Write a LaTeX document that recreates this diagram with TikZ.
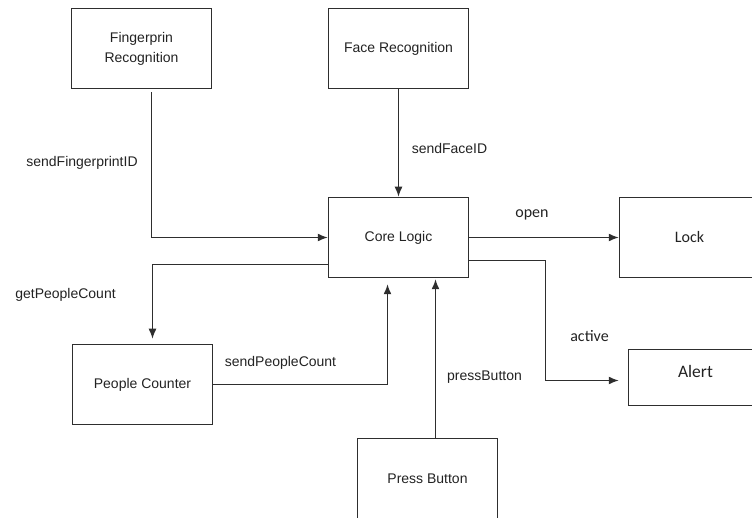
\documentclass[tikz,border=0pt]{standalone}
\usepackage{fontspec}
\setmainfont{Liberation Sans}
\newfontfamily\carlito{Carlito}
\usepackage{tikz}
\usetikzlibrary{arrows.meta, positioning}
\definecolor{linegray}{HTML}{2E2E2E}
\definecolor{textgray}{HTML}{222222}

\tikzset{
  block/.style={draw=linegray, line width=1.5pt, minimum width=140pt, minimum height=80pt,
    align=center, text=textgray, font=\fontsize{14}{20}\selectfont},
  flow/.style={draw=linegray, line width=1.4pt, -{Latex[length=10pt,width=8pt]}},
  lbl/.style={text=textgray, font=\fontsize{14}{16}\selectfont},
  clbl/.style={text=textgray, font=\carlito\fontsize{16}{18}\selectfont}
}

\begin{document}
\begin{tikzpicture}[x=1pt, y=-1pt]
  \clip (0,0) rectangle (752,518);

  % blocks
  \node[block] (finger) at (141.5,48.5) {Fingerprin\\Recognition};
  \node[block] (face) at (398.5,48.5) {Face Recognition};
  \node[block] (core) at (398.5,237.5) {Core Logic};
  \node[block, font=\carlito\fontsize{16}{18}\selectfont] (lock) at (689.5,237.5) {Lock};
  \node[block, minimum width=134pt, minimum height=56pt, text height=10pt, text depth=10pt,
    font=\carlito\fontsize{17.5}{20}\selectfont] (alert) at (695.5,377.5) {Alert};
  \node[block] (counter) at (142.5,384.5) {People Counter};
  \node[block] (press) at (427.5,478.5) {Press Button};

  % messages
  \draw[flow, shorten <=3pt] ([xshift=10pt]finger.south) |- (core.west);
  \draw[flow] (face) -- (core);
  \draw[flow] (core) -- (lock);
  \draw[flow, shorten >=9pt] ([yshift=-23pt]core.east) -- ++(76,0) |- ([yshift=-3pt]alert.west);
  \draw[flow, shorten >=5pt] ([yshift=-27pt]core.west) -| ([xshift=10pt]counter.north);
  \draw[flow, shorten >=6pt] (counter.east) -| ([xshift=-11pt]core.south);
  \draw[flow, shorten >=1pt] ([xshift=8pt]press.north) -- ([xshift=37pt]core.south);

  \node[lbl] (lfinger) at (82,163) {sendFingerprintID};
  \node[lbl] (lface) at (449.5,148) {sendFaceID};
  \node[clbl] (lopen) at (532,215) {open};
  \node[clbl] (lactive) at (589.5,336) {active};
  \node[lbl] (lget) at (65.5,295) {getPeopleCount};
  \node[lbl] (lsend) at (280.5,363) {sendPeopleCount};
  \node[lbl] (lpress) at (484.5,377) {pressButton};
\end{tikzpicture}
\end{document}
